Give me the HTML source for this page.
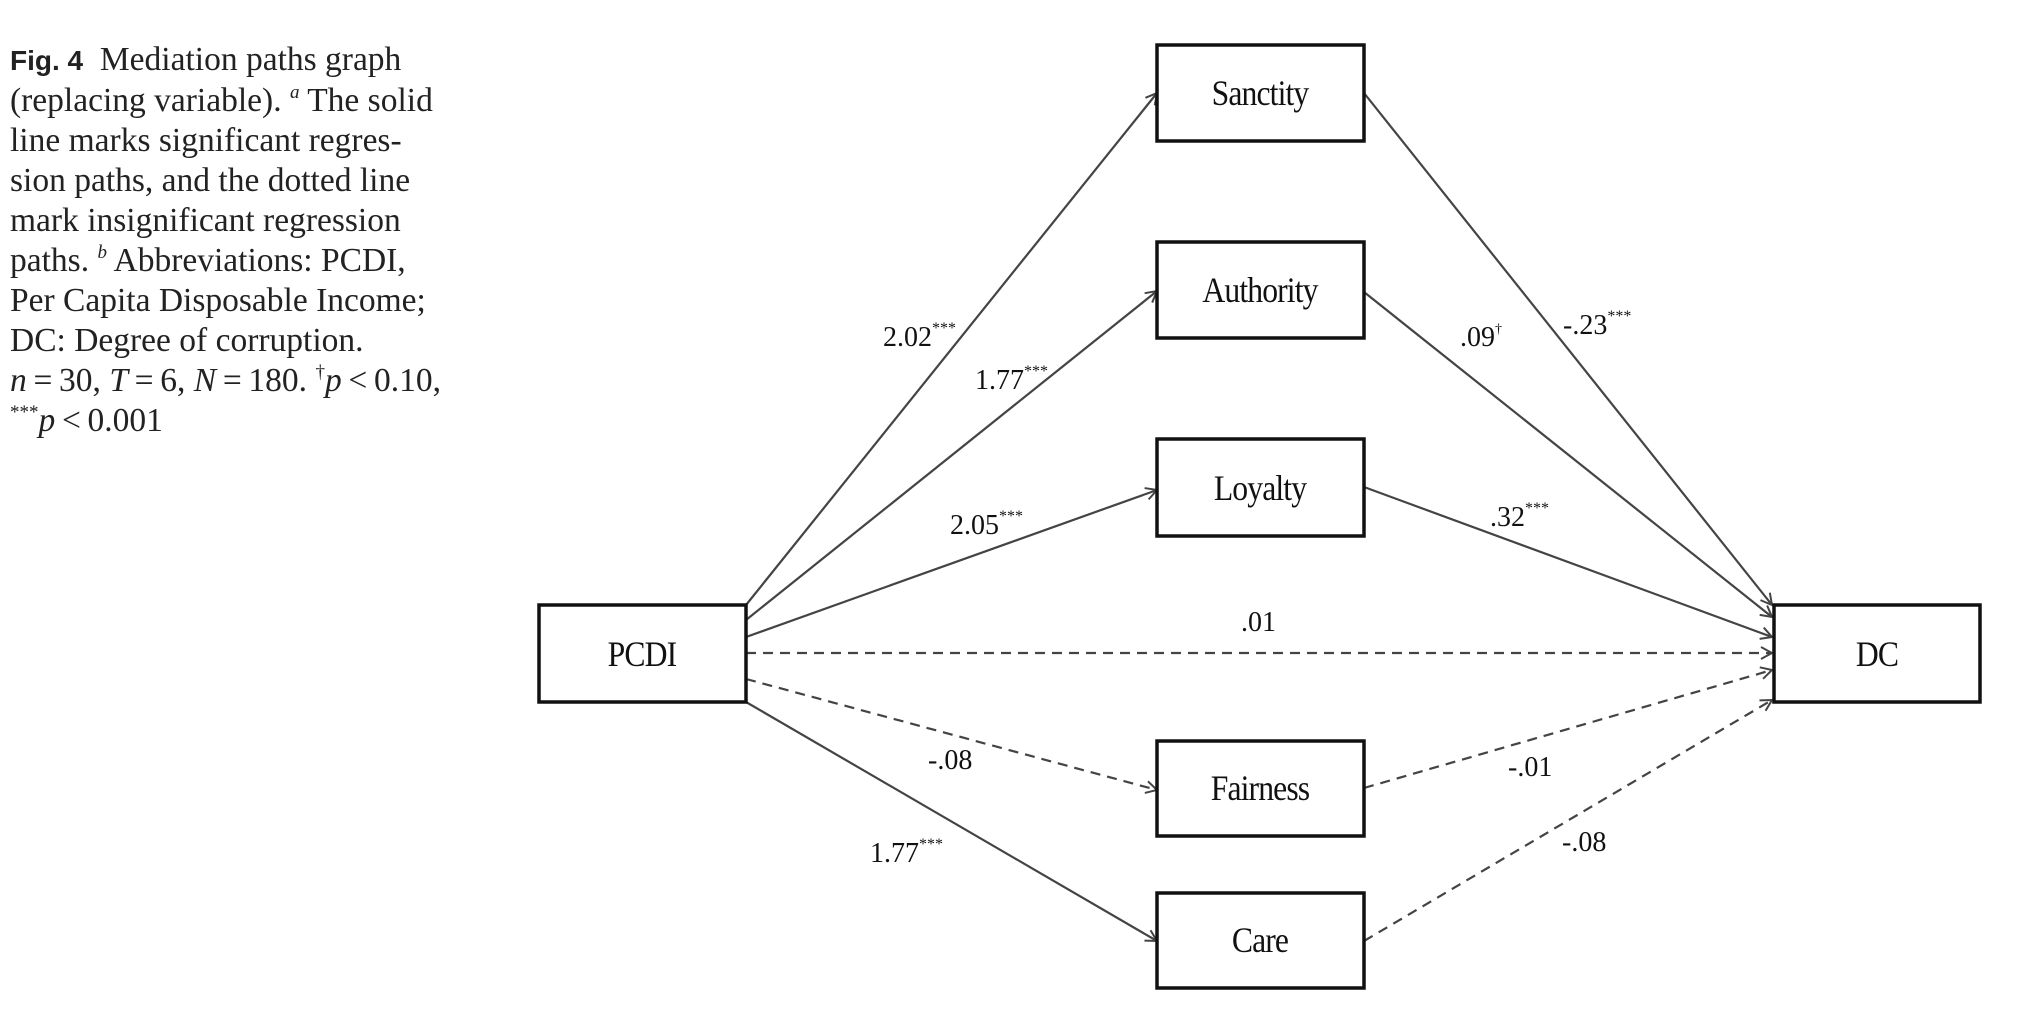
<!DOCTYPE html>
<html><head><meta charset="utf-8"><style>
body{margin:0;background:#fff;width:2018px;height:1023px;overflow:hidden;position:relative}
.cap{position:absolute;left:10px;top:40px;font-family:"Liberation Serif",serif;font-size:33.5px;line-height:40px;color:#222;width:520px;white-space:nowrap}
.cap b{font-family:"Liberation Sans",sans-serif;font-weight:bold;font-size:28px}
.cap sup{font-size:19px;line-height:0;vertical-align:0;position:relative;top:-13px}
</style></head><body>
<div class="cap"><b>Fig. 4</b>&nbsp; Mediation paths graph<br>(replacing variable). <sup><i>a</i></sup> The solid<br>line marks significant regres-<br>sion paths, and the dotted line<br>mark insignificant regression<br>paths. <sup><i>b</i></sup> Abbreviations: PCDI,<br>Per Capita Disposable Income;<br>DC: Degree of corruption.<br><i>n</i>&#8201;=&#8201;30, <i>T</i>&#8201;=&#8201;6, <i>N</i>&#8201;=&#8201;180. <sup>†</sup><i>p</i>&#8201;&lt;&#8201;0.10,<br><sup>***</sup><i>p</i>&#8201;&lt;&#8201;0.001</div>
<svg width="2018" height="1023" style="position:absolute;left:0;top:0" font-family="Liberation Serif, serif">
<defs><marker id="a" markerWidth="14" markerHeight="14" refX="12" refY="7" orient="auto" markerUnits="userSpaceOnUse"><path d="M1,1 L12,7 L1,13" fill="none" stroke="#444" stroke-width="2"/></marker></defs>
<g stroke="#444" stroke-width="2.2" fill="none" marker-end="url(#a)">
<line x1="746" y1="605" x2="1157" y2="93"/>
<line x1="746" y1="620" x2="1157" y2="291"/>
<line x1="746" y1="637" x2="1157" y2="490"/>
<line x1="746" y1="653" x2="1772" y2="653" stroke-dasharray="10,7"/>
<line x1="746" y1="679" x2="1157" y2="790" stroke-dasharray="10,7"/>
<line x1="746" y1="702" x2="1157" y2="941"/>
<line x1="1364" y1="93" x2="1772" y2="605"/>
<line x1="1364" y1="292" x2="1772" y2="617"/>
<line x1="1364" y1="487" x2="1772" y2="637"/>
<line x1="1364" y1="788" x2="1772" y2="670" stroke-dasharray="10,7"/>
<line x1="1364" y1="941" x2="1772" y2="700" stroke-dasharray="10,7"/>
</g>
<g stroke="#111" stroke-width="3.5" fill="#fff">
<rect x="539" y="605" width="207" height="97"/>
<rect x="1157" y="45" width="207" height="96"/>
<rect x="1157" y="242" width="207" height="96"/>
<rect x="1157" y="439" width="207" height="97"/>
<rect x="1157" y="741" width="207" height="95"/>
<rect x="1157" y="893" width="207" height="95"/>
<rect x="1774" y="605" width="206" height="97"/>
</g>
<g font-size="36" text-anchor="middle" fill="#111" style="letter-spacing:-1px">
<text x="642" y="666" transform="translate(642,0) scale(0.88,1) translate(-642,0)">PCDI</text>
<text x="1260" y="105" transform="translate(1260,0) scale(0.88,1) translate(-1260,0)">Sanctity</text>
<text x="1260" y="302" transform="translate(1260,0) scale(0.88,1) translate(-1260,0)">Authority</text>
<text x="1260" y="500" transform="translate(1260,0) scale(0.88,1) translate(-1260,0)">Loyalty</text>
<text x="1260" y="800" transform="translate(1260,0) scale(0.88,1) translate(-1260,0)">Fairness</text>
<text x="1260" y="952" transform="translate(1260,0) scale(0.88,1) translate(-1260,0)">Care</text>
<text x="1877" y="666" transform="translate(1877,0) scale(0.88,1) translate(-1877,0)">DC</text>
</g>
<g font-size="28" fill="#111">
<text x="883" y="346">2.02<tspan font-size="16" dy="-13">***</tspan></text>
<text x="975" y="389">1.77<tspan font-size="16" dy="-13">***</tspan></text>
<text x="950" y="534">2.05<tspan font-size="16" dy="-13">***</tspan></text>
<text x="928" y="769">-.08</text>
<text x="870" y="862">1.77<tspan font-size="16" dy="-13">***</tspan></text>
<text x="1460" y="346">.09<tspan font-size="14" dy="-13">†</tspan></text>
<text x="1563" y="334">-.23<tspan font-size="16" dy="-13">***</tspan></text>
<text x="1490" y="526">.32<tspan font-size="16" dy="-13">***</tspan></text>
<text x="1241" y="631">.01</text>
<text x="1508" y="776">-.01</text>
<text x="1562" y="851">-.08</text>
</g>
</svg>
</body></html>
